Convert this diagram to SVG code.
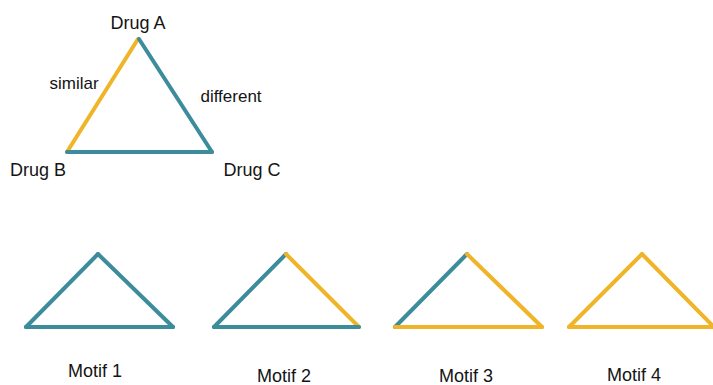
<svg xmlns="http://www.w3.org/2000/svg" width="713" height="385" viewBox="0 0 713 385">
<style>
text{font-family:"Liberation Sans",Arial,sans-serif;fill:#141414;font-size:18px;text-anchor:middle}
.t{stroke:#3c8c9c;stroke-width:4;stroke-linecap:round;fill:none}
.y{stroke:#f0b428;stroke-width:4;stroke-linecap:round;fill:none}
.lbl{font-size:17px}
.m{font-size:18px}
</style>
<rect width="713" height="385" fill="#fff"/>
<g id="connectors">
<line class="y" x1="138" y1="39" x2="67" y2="152"/>
<line class="t" x1="139" y1="39" x2="212" y2="152"/>
<line class="t" x1="67" y1="152" x2="212" y2="152"/>
<text class="lbl" x="74" y="89">similar</text>
<text class="lbl" x="231" y="102">different</text>
</g>
<g id="drugA"><text x="138" y="29">Drug A</text></g>
<g id="drugB"><text x="38" y="176">Drug B</text></g>
<g id="drugC"><text x="252" y="176">Drug C</text></g>
<g id="motif1">
<line class="t" x1="26" y1="327" x2="98" y2="254"/>
<line class="t" x1="98" y1="254" x2="173" y2="327"/>
<line class="t" x1="26" y1="327" x2="173" y2="327"/>
<text class="m" x="95" y="377">Motif 1</text>
</g>
<g id="motif2">
<line class="t" x1="214" y1="327" x2="286" y2="254"/>
<line class="y" x1="286" y1="254" x2="359" y2="327"/>
<line class="t" x1="214" y1="327" x2="359" y2="327"/>
<text class="m" x="284" y="382">Motif 2</text>
</g>
<g id="motif3">
<line class="t" x1="395" y1="327" x2="467" y2="254"/>
<line class="y" x1="467" y1="254" x2="542" y2="327"/>
<line class="y" x1="395" y1="327" x2="542" y2="327"/>
<text class="m" x="466" y="382">Motif 3</text>
</g>
<g id="motif4">
<line class="y" x1="569" y1="327" x2="642" y2="254"/>
<line class="y" x1="642" y1="254" x2="714" y2="327"/>
<line class="y" x1="569" y1="327" x2="714" y2="327"/>
<text class="m" x="634" y="381">Motif 4</text>
</g>
</svg>
